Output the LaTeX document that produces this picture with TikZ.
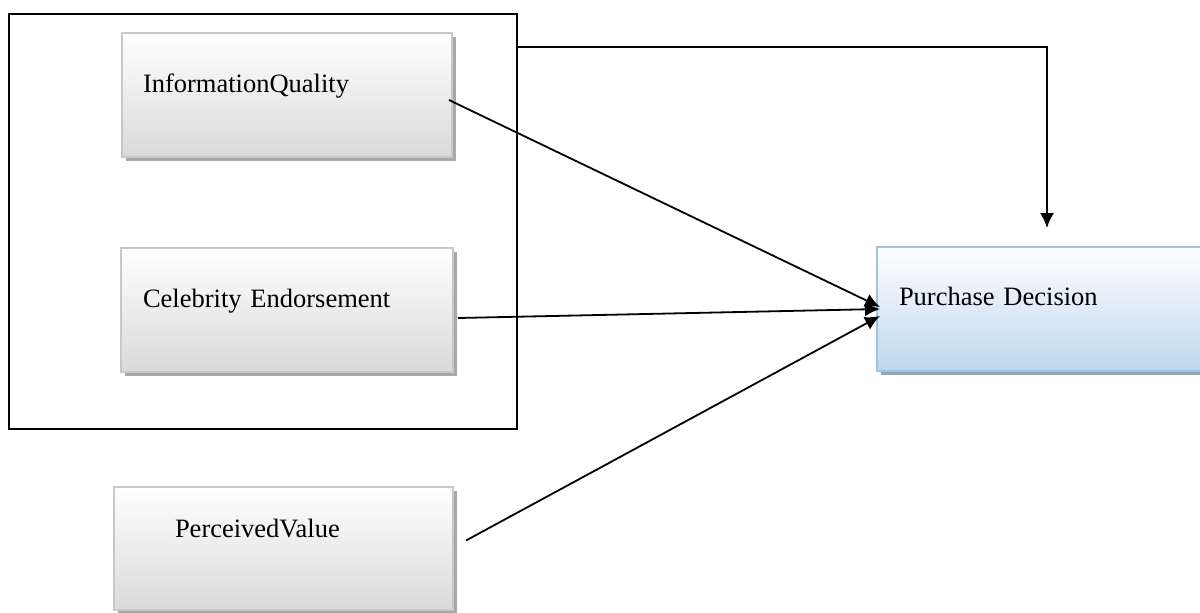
\documentclass[tikz,border=0pt]{standalone}
\usepackage{fontspec}
\setmainfont{Liberation Serif}
\usepackage{xcolor}
\usepackage{tikz}
\usetikzlibrary{arrows.meta}
\usetikzlibrary{shadows}
\usetikzlibrary{positioning}
\definecolor{boxline}{HTML}{C8C8C8}
\definecolor{boxbottom}{HTML}{D9D9D9}
\definecolor{boxshadow}{HTML}{A8A8A8}
\definecolor{pdline}{HTML}{9DC3E6}
\definecolor{pdbottom}{HTML}{BDD7EE}
\definecolor{pdshadow}{HTML}{91A6BE}
\tikzset{
	factor/.style={rectangle, draw=boxline, line width=1pt, top color=white, bottom color=boxbottom,
		drop shadow={shadow xshift=2pt, shadow yshift=-2pt, fill=boxshadow, opacity=1},
		minimum height=62pt, align=left, text height=9pt, text depth=12pt,
		font=\fontsize{13.25}{16}\selectfont},
	outcome/.style={factor, draw=pdline, bottom color=pdbottom,
		drop shadow={shadow xshift=2pt, shadow yshift=-2pt, fill=pdshadow, opacity=1}},
	link/.style={black, line width=0.9pt, ->}
}
\begin{document}
\begin{tikzpicture}[x=0.5pt,y=-0.5pt,>={Latex[length=7.5pt,width=7pt]}]
	\clip (0,0) rectangle (1200,612);
	\node[draw, line width=1pt, minimum width=254pt, minimum height=207.5pt] (grp) at (263,221.5) {};
	\node[factor, inner xsep=10.5pt, text width=144pt] (iq) at (287,95) {InformationQuality};
	\node[factor, inner xsep=11pt, text width=144pt] (ce) at (287,310) {Celebrity Endorsement};
	\node[factor, inner xsep=30.5pt, text width=108.5pt, minimum height=61.5pt, text depth=20.5pt] (pv) at (283.5,548.5) {PerceivedValue};
	\node[outcome, inner xsep=11pt, text width=148pt, text depth=13pt] (pd) at (1047,309) {Purchase Decision};
	\draw[link] ([xshift=-2pt,yshift=-2.5pt]iq.east) -- ([xshift=2pt,yshift=1pt]pd.west);
	\draw[link] ([xshift=2pt,yshift=-4pt]ce.east) -- ([xshift=2pt]pd.west);
	\draw[link] ([xshift=6pt,yshift=4pt]pv.east) -- ([xshift=2pt,yshift=-3.5pt]pd.west);
	\draw[link] ([yshift=-17pt]grp.north east) -| ([yshift=9pt]pd.north);
\end{tikzpicture}
\end{document}
